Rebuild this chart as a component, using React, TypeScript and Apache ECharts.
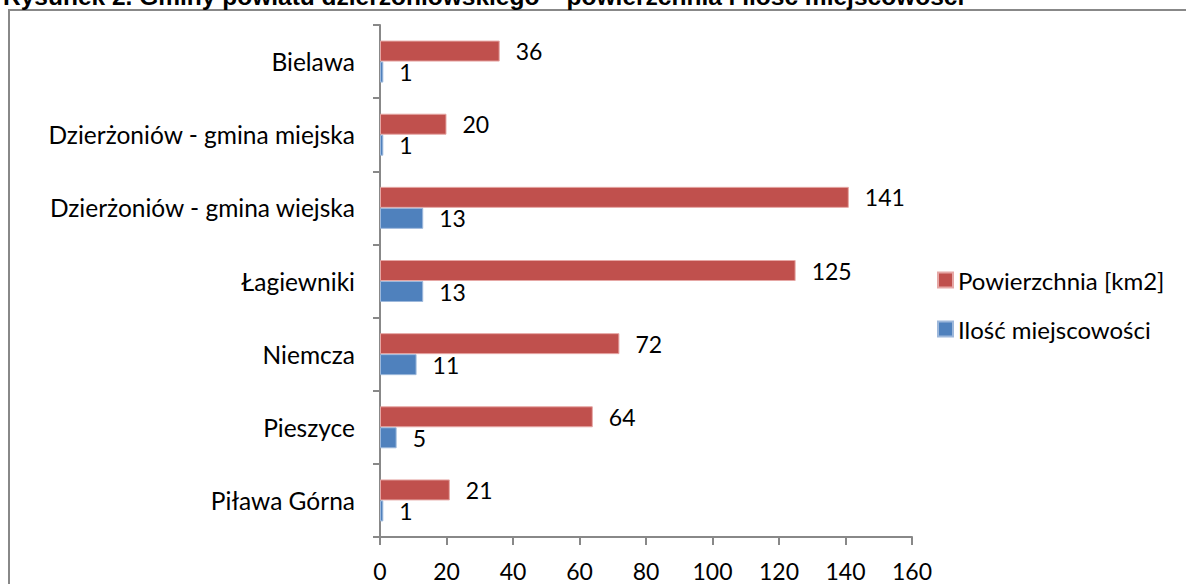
import React, { useEffect, useRef } from "react";
import * as echarts from "echarts";

const titleText = "Rysunek 2. Gminy powiatu dzierżoniowskiego – powierzchnia i ilość miejscowości";
const categories = [
  "Bielawa",
  "Dzierżoniów - gmina miejska",
  "Dzierżoniów - gmina wiejska",
  "Łagiewniki",
  "Niemcza",
  "Pieszyce",
  "Piława Górna",
];
const seriesNames = ["Powierzchnia [km2]", "Ilość miejscowości"];
const areaValues = [36, 20, 141, 125, 72, 64, 21];
const placesValues = [1, 1, 13, 13, 11, 5, 1];
const xMin = 0;
const xMax = 160;
const xInterval = 20;

const FONT = "Lato";
const FS = 24.5;
const FS_NUM = 23;

export default function App() {
  const ref = useRef<HTMLDivElement>(null);
  useEffect(() => {
    if (!ref.current) return;
    const chart = echarts.init(ref.current, undefined, { renderer: "svg" });
    const labelStyle = {
      show: true,
      position: "right" as const,
      distance: 16,
      color: "#000",
      fontFamily: FONT,
      fontSize: FS_NUM,
    };
    chart.setOption({
      animation: false,
      backgroundColor: "#fff",
      graphic: [
        {
          type: "rect",
          shape: { x: 9, y: 10, width: 1300, height: 700 },
          style: { fill: "none", stroke: "#888", lineWidth: 2 },
          silent: true,
        },
        {
          type: "text",
          x: 3,
          y: -4,
          style: {
            text: titleText,
            font: 'bold 24.5px "Liberation Sans", Arial, sans-serif',
            fill: "#000",
            verticalAlign: "middle",
            align: "left",
          },
        },
      ],
      grid: { left: 380, top: 25, width: 532, height: 512 },
      legend: {
        orient: "vertical",
        left: 932,
        top: 263,
        icon: "rect",
        itemWidth: 15,
        itemHeight: 15,
        itemGap: 25,
        textStyle: { fontFamily: FONT, fontSize: 24, color: "#000", lineHeight: 24 },
        data: seriesNames,
      },
      xAxis: {
        type: "value",
        min: xMin,
        max: xMax,
        interval: xInterval,
        splitLine: { show: false },
        axisLine: { show: true, lineStyle: { color: "#888", width: 2 } },
        axisTick: { show: true, length: 8, lineStyle: { color: "#888", width: 2 } },
        axisLabel: { color: "#000", fontFamily: FONT, fontSize: FS_NUM, margin: 22 },
      },
      yAxis: {
        type: "category",
        data: categories,
        inverse: true,
        axisLine: { show: true, lineStyle: { color: "#888", width: 2 } },
        axisTick: { show: true, length: 7, lineStyle: { color: "#888", width: 2 } },
        axisLabel: { color: "#000", fontFamily: FONT, fontSize: FS, margin: 25 },
      },
      series: [
        {
          name: seriesNames[0],
          type: "bar",
          data: areaValues,
          barWidth: 21,
          barGap: "0%",
          itemStyle: { color: "#C0504D", borderColor: "#E6A7A5", borderWidth: 1 },
          label: labelStyle,
        },
        {
          name: seriesNames[1],
          type: "bar",
          data: placesValues,
          barWidth: 21,
          barGap: "0%",
          itemStyle: { color: "#4F81BD", borderColor: "#9DB8DB", borderWidth: 1 },
          label: labelStyle,
        },
      ],
    });
    return () => chart.dispose();
  }, []);
  return (
    <div
      ref={ref}
      style={{ position: "fixed", left: 0, top: 0, width: 1186, height: 584 }}
    />
  );
}
